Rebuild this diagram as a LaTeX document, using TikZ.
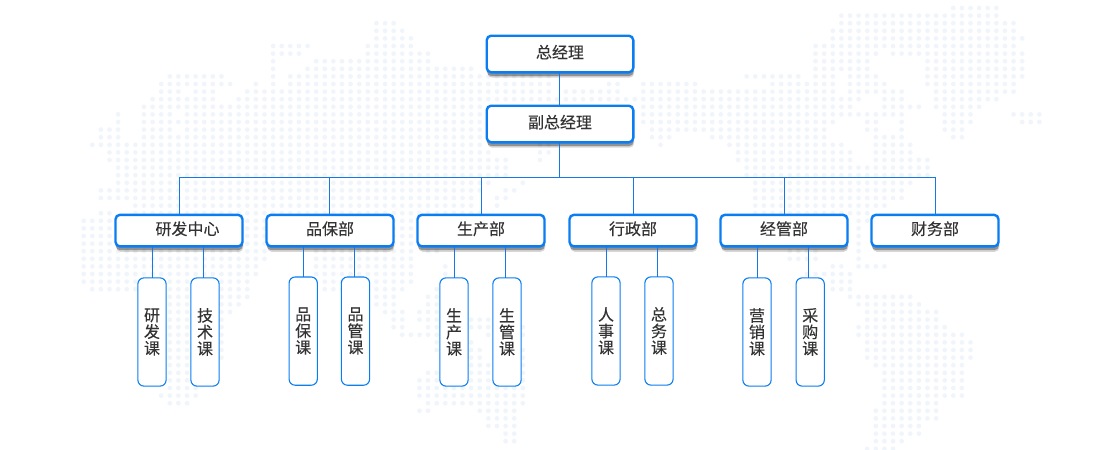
\documentclass[tikz,border=0pt]{standalone}
\usepackage{fontspec}
\setmainfont{Noto Sans CJK SC}
\newfontfamily\heavyfont[FakeBold=0.22]{Noto Sans CJK SC}
\newfontfamily\midfont[FakeBold=0.1]{Noto Sans CJK SC}
\definecolor{dotc}{HTML}{F0F5FB}
\definecolor{boxblue}{HTML}{0A7DF2}
\definecolor{linkblue}{HTML}{1578E6}
\definecolor{inkc}{HTML}{333333}
\newcommand{\dotrow}[2]{\foreach \a/\b in {#2}{\foreach \cc in {\a,...,\b}{\fill[dotc] ({92.3+8.61*\cc},{8+7.6*#1}) circle[radius=2.35];}}}
\newcommand{\conn}[3]{\draw[linkline] ([xshift=#3pt]#2.north) -- ([xshift=#3pt]#2.north |- #1.south);}
\tikzset{
  bigbox/.style={draw=boxblue,line width=2.4pt,fill=white,rounded corners=4.5pt,minimum width=146.6pt,minimum height=36.6pt,inner sep=0pt,outer sep=0pt,text=inkc,text height=10.5pt,text depth=2pt,font=\heavyfont\fontsize{16}{18}\selectfont,
    preaction={fill=black,opacity=.16,transform canvas={xshift=.8pt,yshift=-5.4pt}},
    preaction={fill=black,opacity=.32,transform canvas={xshift=.3pt,yshift=-3.8pt}}},
  deptbox/.style={bigbox,minimum width=127pt,minimum height=31.6pt},
  subbox/.style={draw=boxblue,line width=1.1pt,fill=white,rounded corners=6pt,minimum width=28.2pt,minimum height=108.2pt,inner sep=0pt,outer sep=0pt,text=inkc,align=center,font=\midfont\fontsize{16}{16.6}\selectfont},
  linkline/.style={draw=linkblue,line width=1pt}
}
\begin{document}
\begin{tikzpicture}[x=1pt,y=-1pt]
\useasboundingbox (0,0) rectangle (1120,450);
\fill[white] (0,0) rectangle (1120,450);
% world map of dots
\dotrow{0}{100/105}
\dotrow{1}{87/105}
\dotrow{2}{33/35,87/107}
\dotrow{3}{33/36,86/107}
\dotrow{4}{33/37,86/108}
\dotrow{5}{21/25,32/37,84/107}
\dotrow{6}{21/24,32/39,84/91,93/108}
\dotrow{7}{21/21,26/39,84/90,97/108}
\dotrow{8}{21/21,25/44,84/90,97/108}
\dotrow{9}{9/15,21/21,23/53,76/82,84/86,88/91,97/108}
\dotrow{10}{8/16,19/19,21/21,23/53,60/61,64/70,79/86,88/92,97/107}
\dotrow{11}{8/10,12/14,18/53,55/61,64/86,88/94,98/107}
\dotrow{12}{7/14,17/89,92/94,98/105}
\dotrow{13}{6/45,64/88,92/96,98/103}
\dotrow{14}{3/3,6/9,11/45,64/94,99/102,107/110}
\dotrow{15}{3/3,6/45,64/86,90/91,94/94,99/102,108/110}
\dotrow{16}{1/3,6/9,11/45,65/85,90/91,94/94,99/101}
\dotrow{17}{1/3,6/45,65/67,72/85,91/94,100/101}
\dotrow{18}{0/45,52/53,66/66,74/87,91/95}
\dotrow{19}{2/46,52/53,75/88,91/95}
\dotrow{20}{2/48,52/52,75/88,91/97}
\dotrow{21}{3/48,76/97}
\dotrow{22}{3/48,76/97}
\dotrow{23}{3/46,50/50,77/95}
\dotrow{24}{1/45,48/49,77/94}
\dotrow{25}{1/44,47/48,77/94}
\dotrow{26}{5/44,47/47,77/92}
\dotrow{27}{1/2,5/45,77/90}
\dotrow{28}{-1/37,89/90}
\dotrow{29}{-1/37,89/89}
\dotrow{30}{-1/37,89/89}
\dotrow{31}{-1/37,89/89}
\dotrow{32}{-1/20,26/37,39/40,81/84,89/89}
\dotrow{33}{-1/20,26/37,81/84,89/89}
\dotrow{34}{-1/19,26/37,41/41,86/87,89/92}
\dotrow{35}{-1/19,26/37,41/41,83/88}
\dotrow{36}{-1/18,26/37,86/88}
\dotrow{37}{0/18,26/36,40/40,86/88}
\dotrow{38}{9/18,33/35,39/40,88/95}
\dotrow{39}{9/17,33/35,39/40,89/96}
\dotrow{40}{9/16,34/36,38/40,90/98}
\dotrow{41}{9/15,35/36,38/40,44/46,90/98}
\dotrow{42}{9/15,35/36,39/40,44/46,50/50,89/99}
\dotrow{43}{9/15,36/40,46/46,50/50,89/101}
\dotrow{44}{9/15,40/40,44/44,90/102}
\dotrow{45}{9/15,40/40,44/45,50/50,90/102}
\dotrow{46}{9/15,44/45,50/50,90/102}
\dotrow{47}{9/14,44/46,50/50,91/101}
\dotrow{48}{9/13,39/40,44/50,92/101}
\dotrow{49}{9/12,38/40,44/50,92/101}
\dotrow{50}{9/12,38/50,92/101}
\dotrow{51}{8/12,38/50,92/101}
\dotrow{52}{9/11,39/50,92/98}
\dotrow{53}{38/39,45/49,91/98}
\dotrow{54}{46/49,91/98}
\dotrow{55}{46/49,91/96}
\dotrow{56}{48/49,91/96}
\dotrow{57}{48/49,91/94}
\dotrow{58}{90/93}
\coordinate (bus) at (559.5,177);
% top boxes
\node[bigbox] (gm) at (560,54) {总经理};
\node[bigbox] (vgm) at (560,124) {副总经理};
% departments
\node[deptbox] (d1) at (179,230.6) {\hspace*{17pt}研发中心};
\node[deptbox] (d2) at (330,230.6) {品保部};
\node[deptbox] (d3) at (481,230.6) {生产部};
\node[deptbox] (d4) at (633,230.6) {行政部};
\node[deptbox] (d5) at (784,230.6) {经管部};
\node[deptbox] (d6) at (935,230.6) {财务部};
% sections
\node[subbox] (s1) at (152,332) {研\\发\\课};
\node[subbox] (s2) at (205,332) {技\\术\\课};
\node[subbox] (s3) at (303.2,331.1) {品\\保\\课};
\node[subbox] (s4) at (355.5,331.1) {品\\管\\课};
\node[subbox] (s5) at (454,332) {生\\产\\课};
\node[subbox] (s6) at (507,332) {生\\管\\课};
\node[subbox] (s7) at (606,331) {人\\事\\课};
\node[subbox] (s8) at (659,331) {总\\务\\课};
\node[subbox] (s9) at (757,332) {营\\销\\课};
\node[subbox] (s10) at (810.2,332) {采\\购\\课};
% connectors
\draw[linkline] ([xshift=-.5pt]gm.south) -- ([xshift=-.5pt]vgm.north);
\draw[linkline] ([xshift=-.5pt]vgm.south) -- (bus);
\draw[linkline] ([xshift=.5pt]d1.north) |- (bus);
\draw[linkline] ([xshift=.5pt]d6.north) |- (bus);
\draw[linkline] ([xshift=-.7pt]d2.north) -- ([xshift=-.7pt]d2.north |- bus);
\draw[linkline] (d3.north) -- (d3.north |- bus);
\draw[linkline] (d4.north) -- (d4.north |- bus);
\draw[linkline] ([xshift=.6pt]d5.north) -- ([xshift=.6pt]d5.north |- bus);
\conn{d1}{s1}{0.3}
\conn{d1}{s2}{-1.7}
\conn{d2}{s3}{0.5}
\conn{d2}{s4}{-1}
\conn{d3}{s5}{0.3}
\conn{d3}{s6}{-1.3}
\conn{d4}{s7}{0.3}
\conn{d4}{s8}{-1.7}
\conn{d5}{s9}{0.3}
\conn{d5}{s10}{-1.9}
\end{tikzpicture}
\end{document}
